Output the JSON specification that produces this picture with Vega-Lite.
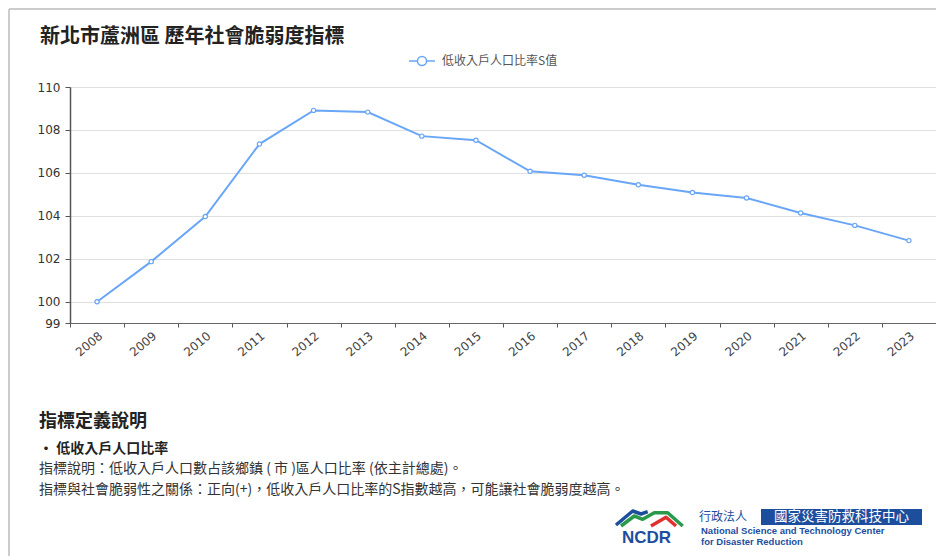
{
  "$schema": "https://vega.github.io/schema/vega-lite/v6.json",
  "padding": {"left": 7, "top": 8, "right": 0, "bottom": 0},
  "background": "white",
  "bounds": "flush",
  "spacing": 89,
  "config": {"view": {"stroke": null}, "font": "Noto Sans CJK TC"},
  "vconcat": [
    {
      "width": 866,
      "height": 236,
      "title": {"text": "新北市蘆洲區 歷年社會脆弱度指標", "anchor": "start", "frame": "group", "dx": -30, "fontSize": 20, "font": "Noto Sans CJK TC", "fontWeight": "bold", "color": "#222222", "offset": 34},
      "data": {"values": [
        {"year": "2008", "value": 99.99},
        {"year": "2009", "value": 101.86},
        {"year": "2010", "value": 103.96},
        {"year": "2011", "value": 107.34},
        {"year": "2012", "value": 108.91},
        {"year": "2013", "value": 108.83},
        {"year": "2014", "value": 107.71},
        {"year": "2015", "value": 107.52},
        {"year": "2016", "value": 106.07},
        {"year": "2017", "value": 105.89},
        {"year": "2018", "value": 105.44},
        {"year": "2019", "value": 105.08},
        {"year": "2020", "value": 104.83},
        {"year": "2021", "value": 104.13},
        {"year": "2022", "value": 103.55},
        {"year": "2023", "value": 102.84}
      ]},
      "mark": {"type": "line", "strokeWidth": 2, "point": {"filled": false, "fill": "white", "size": 18, "strokeWidth": 1.2}},
      "encoding": {
        "x": {"field": "year", "type": "ordinal", "scale": {"type": "band", "paddingInner": 0, "paddingOuter": 0},
          "axis": {"title": null, "labelAngle": -40, "tickBand": "extent", "domainColor": "#666666", "domainWidth": 1.2, "tickColor": "#555555", "tickSize": 4, "labelFont": "DejaVu Sans", "labelFontSize": 12, "labelColor": "#444444", "labelPadding": 3, "grid": false}},
        "y": {"field": "value", "type": "quantitative", "scale": {"domain": [99, 110], "nice": false, "zero": false},
          "axis": {"title": null, "values": [99, 100, 102, 104, 106, 108, 110], "domainColor": "#555555", "domainWidth": 1.5, "tickColor": "#555555", "tickSize": 5, "labelPadding": 5, "labelFont": "DejaVu Sans", "labelFontSize": 12, "labelColor": "#333333", "grid": true, "gridColor": "#e0e0e0", "gridWidth": 1}},
        "color": {"datum": "低收入戶人口比率S值", "type": "nominal", "scale": {"range": ["#6aa6f7"]},
          "legend": {"orient": "none", "legendX": 338, "legendY": -40, "direction": "horizontal", "title": null, "padding": 0,
            "symbolType": "M-1,0L-0.35,0M0.35,0L1,0M-0.35,0A0.35,0.35,0,1,1,0.35,0A0.35,0.35,0,1,1,-0.35,0",
            "symbolSize": 676, "symbolFillColor": "white", "symbolStrokeColor": "#6aa6f7", "symbolStrokeWidth": 1.5,
            "labelFont": "Noto Sans CJK TC", "labelFontSize": 12, "labelColor": "#555555", "labelOffset": 6}}
      }
    },
    {
      "width": 866,
      "height": 111,
      "layer": [
        {
          "data": {"values": [
            {"order": 1, "kind": "heading", "text": "指標定義說明"},
            {"order": 2, "kind": "item", "text": "• 低收入戶人口比率"},
            {"order": 3, "kind": "body", "text": "指標說明：低收入戶人口數占該鄉鎮 ( 市 )區人口比率 (依主計總處)。"},
            {"order": 4, "kind": "body", "text": "指標與社會脆弱性之關係：正向(+)，低收入戶人口比率的S指數越高，可能讓社會脆弱度越高。"}
          ]},
          "encoding": {
            "x": {"datum": -31, "type": "quantitative", "scale": {"domain": [0, 866], "nice": false, "zero": false}, "axis": null},
            "y": {"field": "order", "type": "quantitative", "scale": {"domain": [0.2, 5.615], "nice": false, "zero": false, "reverse": true}, "axis": null},
            "text": {"field": "text"}
          },
          "layer": [
            {"transform": [{"filter": "datum.kind === 'heading'"}], "mark": {"type": "text", "align": "left", "baseline": "middle", "font": "Noto Sans CJK TC", "fontSize": 18, "fontWeight": "bold", "color": "#222222", "dy": -6.5}},
            {"transform": [{"filter": "datum.kind === 'item'"}], "mark": {"type": "text", "align": "left", "baseline": "middle", "font": "Noto Sans CJK TC", "fontSize": 14, "fontWeight": "bold", "color": "#222222"}},
            {"transform": [{"filter": "datum.kind === 'body'"}], "mark": {"type": "text", "align": "left", "baseline": "middle", "font": "Noto Sans CJK TC", "fontSize": 14, "color": "#333333"}}
          ]
        },
        {
          "data": {"values": [{}]},
          "layer": [
            {"mark": {"type": "rule", "color": "#cccccc", "strokeWidth": 2},
             "encoding": {"x": {"datum": -61, "type": "quantitative", "scale": {"domain": [0, 866], "nice": false, "zero": false}, "axis": null},
                          "y": {"datum": -403, "type": "quantitative", "scale": {"domain": [0, 111], "nice": false, "zero": false, "reverse": true}, "axis": null},
                          "y2": {"datum": 144}}},
            {"mark": {"type": "rule", "color": "#cccccc", "strokeWidth": 2},
             "encoding": {"x": {"datum": -61, "type": "quantitative"}, "x2": {"datum": 867},
                          "y": {"datum": -403, "type": "quantitative"}}},
            {"mark": {"type": "rect", "color": "#1d4e9e"},
             "encoding": {"x": {"datum": 691, "type": "quantitative"}, "x2": {"datum": 852},
                          "y": {"datum": 97, "type": "quantitative"}, "y2": {"datum": 113}}},
            {"mark": {"type": "text", "text": "國家災害防救科技中心", "align": "center", "baseline": "middle", "font": "Noto Sans CJK TC", "fontSize": 13.5, "color": "white"},
             "encoding": {"x": {"datum": 771.5, "type": "quantitative"}, "y": {"datum": 105, "type": "quantitative"}}},
            {"mark": {"type": "text", "text": "行政法人", "align": "left", "baseline": "middle", "font": "Noto Sans CJK TC", "fontSize": 12, "color": "#1d4e9e"},
             "encoding": {"x": {"datum": 629, "type": "quantitative"}, "y": {"datum": 104.5, "type": "quantitative"}}},
            {"mark": {"type": "text", "text": "National Science and Technology Center", "align": "left", "baseline": "middle", "font": "Liberation Sans", "fontWeight": "bold", "fontSize": 9.5, "color": "#1d4e9e"},
             "encoding": {"x": {"datum": 631, "type": "quantitative"}, "y": {"datum": 118.5, "type": "quantitative"}}},
            {"mark": {"type": "text", "text": "for Disaster Reduction", "align": "left", "baseline": "middle", "font": "Liberation Sans", "fontWeight": "bold", "fontSize": 9.5, "color": "#1d4e9e"},
             "encoding": {"x": {"datum": 631, "type": "quantitative"}, "y": {"datum": 130, "type": "quantitative"}}},
            {"mark": {"type": "text", "text": "NCDR", "align": "center", "baseline": "middle", "font": "Liberation Sans", "fontWeight": "bold", "fontSize": 17, "color": "#1d4e9e"},
             "encoding": {"x": {"datum": 576.5, "type": "quantitative"}, "y": {"datum": 125.5, "type": "quantitative"}}},
            {"mark": {"type": "point", "shape": "M-30,8L-13.3,-6L-5,-3L1.7,-5.3", "size": 4, "filled": false, "color": "#1d4e9e", "strokeWidth": 3.5, "strokeJoin": "round", "opacity": 1},
             "encoding": {"x": {"datum": 576, "type": "quantitative"}, "y": {"datum": 105, "type": "quantitative"}}},
            {"mark": {"type": "point", "shape": "M-25,9L-11.7,-1L-3.3,2.3L8.3,-4.3L21.7,-4.3L36.7,9", "size": 4, "filled": false, "color": "#2a9a4a", "strokeWidth": 3.5, "strokeJoin": "round", "opacity": 1},
             "encoding": {"x": {"datum": 576, "type": "quantitative"}, "y": {"datum": 105, "type": "quantitative"}}},
            {"mark": {"type": "point", "shape": "M5,9L20,0.3L30,9", "size": 4, "filled": false, "color": "#e0312f", "strokeWidth": 3.5, "strokeJoin": "round", "opacity": 1},
             "encoding": {"x": {"datum": 576, "type": "quantitative"}, "y": {"datum": 105, "type": "quantitative"}}}
          ]
        }
      ],
      "resolve": {"scale": {"y": "independent"}}
    }
  ]
}
